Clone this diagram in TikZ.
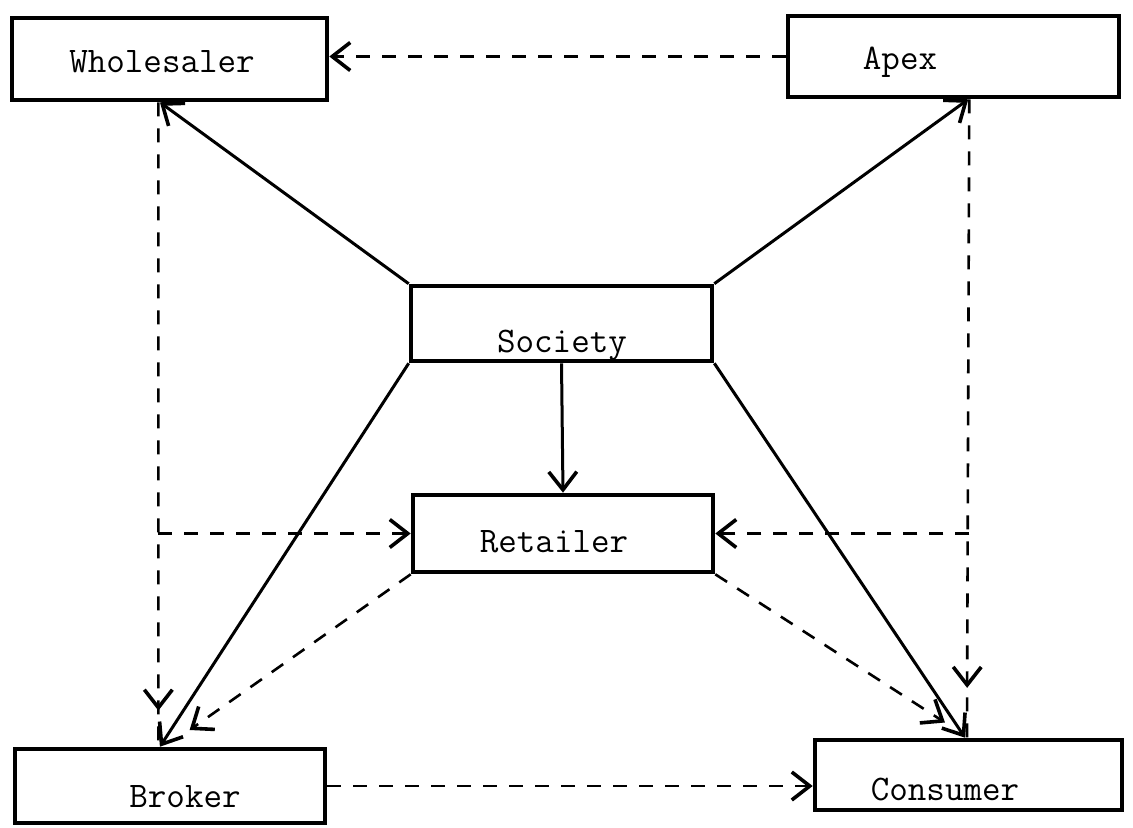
\documentclass[tikz,border=0pt]{standalone}
\usetikzlibrary{arrows.meta,calc,decorations.markings}
\begin{document}
\begin{tikzpicture}[x=0.5pt,y=-0.5pt,
  box/.style={draw, line width=2.3pt, rectangle, inner sep=0pt},
  lbl/.style={font=\ttfamily\fontsize{18}{21}\selectfont, anchor=base, inner sep=0pt},
  tip/.style={-{Straight Barb[length=9pt,width=14pt,line width=1.8pt]}},
  solidc/.style={line width=1.5pt, tip},
  dashl/.style={line width=1.3pt, dash pattern=on 7pt off 6pt},
  dashc/.style={dashl, tip},
  midarrow/.style={postaction={decorate,decoration={markings,mark=at position #1 with {\arrow[solid,line width=1.8pt]{Straight Barb[length=9pt,width=14pt]}}}}},
]
\useasboundingbox (0,0) rectangle (1133,828);

\node[box, minimum width=157.5pt, minimum height=41pt] (Wholesaler) at (169.5,59) {};
\node[box, minimum width=165.5pt, minimum height=40.5pt] (Apex) at (953.5,56.5) {};
\node[box, minimum width=150.5pt, minimum height=37.5pt] (Society) at (561.5,323.5) {};
\node[box, minimum width=150pt, minimum height=38.5pt] (Retailer) at (563,533.5) {};
\node[box, minimum width=155pt, minimum height=37pt] (Broker) at (170,786) {};
\node[box, minimum width=153.5pt, minimum height=35pt] (Consumer) at (968.5,775) {};

\node[lbl] (tWholesaler) at (162,73) {Wholesaler};
\node[lbl] (tApex) at (900,70) {Apex};
\node[lbl] (tSociety) at (562,352) {Society};
\node[lbl] (tRetailer) at (554,552) {Retailer};
\node[lbl] (tBroker) at (185,807) {Broker};
\node[lbl] (tConsumer) at (945,800) {Consumer};

\coordinate (wS) at ($(Wholesaler.south west)!0.47!(Wholesaler.south east)$);
\coordinate (wD) at ($(Wholesaler.south west)!0.465!(Wholesaler.south east)$);
\coordinate (bS) at ($(Broker.north west)!0.468!(Broker.north east)$);
\coordinate (bD) at ($(Broker.north west)!0.463!(Broker.north east)$);
\coordinate (bR) at ($(Broker.north west)!0.487!(Broker.north east)$);
\coordinate (aS) at ($(Apex.south west)!0.544!(Apex.south east)$);
\coordinate (aD) at ($(Apex.south west)!0.547!(Apex.south east)$);
\coordinate (cS) at ($(Consumer.north west)!0.489!(Consumer.north east)$);
\coordinate (cD) at ($(Consumer.north west)!0.495!(Consumer.north east)$);
\coordinate (cR) at ($(Consumer.north west)!0.50!(Consumer.north east)$);

% solid connectors from Society
\draw[solidc] (Society.north west) -- (wS);
\draw[solidc] (Society.north east) -- (aS);
\draw[solidc] (Society.south west) -- (bS);
\draw[solidc] (Society.south east) -- (cS);
\draw[solidc] (Society.south) -- (Retailer.north);

% dashed connectors
\draw[dashc] (Apex.west) -- (Apex.west -| Wholesaler.east);
\draw[dashl, midarrow=0.944] (wD) -- (bD);
\draw[dashl, midarrow=0.922] (aD) -- (cD);
\draw[dashc] (wD |- Retailer.west) -- (Retailer.west);
\draw[dashc] (aD |- Retailer.east) -- (Retailer.east);
\draw[dashc, shorten >=14.5pt] (Retailer.south west) -- (bR);
\draw[dashc, shorten >=14pt] (Retailer.south east) -- (cR);
\draw[dashc] (Broker.east) -- (Broker.east -| Consumer.west);
\end{tikzpicture}
\end{document}
